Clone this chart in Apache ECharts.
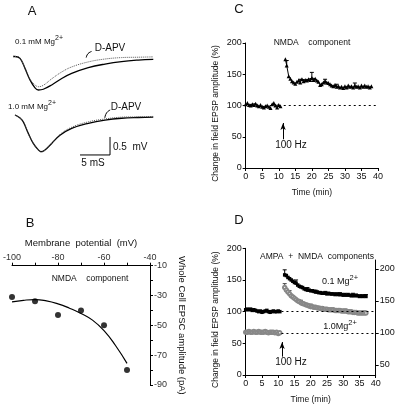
<!DOCTYPE html>
<html><head><meta charset="utf-8">
<script src="https://cdn.jsdelivr.net/npm/echarts@6/dist/echarts.min.js"></script>
<style>html,body{margin:0;padding:0;background:#fff}#c{width:400px;height:406px}</style>
</head><body><div id="c"></div>
<script>
// ---------- Panel A: EPSP traces (time ms, mV) ----------
const aTimeTop = [0, 0.33, 1.17, 2.0, 2.83, 3.67, 4.22, 5.05, 6.45, 8.12, 9.78, 12.55, 15.33, 18.1, 20.88, 23.38];
const aTopCtrl = [0, 0, -0.05, -0.33, -0.65, -0.87, -0.93, -0.91, -0.79, -0.61, -0.47, -0.31, -0.21, -0.14, -0.10, -0.08];
const aTopAPV  = [0, 0, -0.05, -0.33, -0.63, -0.79, -0.84, -0.80, -0.62, -0.43, -0.29, -0.15, -0.07, -0.03, -0.02, -0.01];
const aTimeBot = [0.33, 1.17, 1.72, 2.55, 3.38, 4.22, 4.67, 5.33, 6.45, 7.83, 9.78, 12.55, 15.33, 18.1, 20.88, 23.38];
const aBotCtrl = [0, -0.08, -0.19, -0.51, -0.79, -0.97, -1.02, -0.97, -0.79, -0.56, -0.37, -0.23, -0.14, -0.09, -0.07, -0.06];
const aBotAPV  = [0, -0.08, -0.19, -0.51, -0.79, -0.98, -1.03, -0.98, -0.78, -0.54, -0.34, -0.19, -0.11, -0.06, -0.05, -0.04];
const leaderTopT = [12.2, 12.5, 13.1], leaderTopV = [-0.03, 0.08, 0.14];
const leaderBotT = [15.3, 15.6, 16.2], leaderBotV = [-0.08, 0.06, 0.14];
const scaleBarT = [11.17, 16.17, 16.17], scaleBarV = [-1.11, -1.11, -0.61];

// ---------- Panel B: I-V ----------
const bPotential = [-100, -90, -80, -70, -60, -50];
const bAmplitude = [-31, -33.8, -43, -40, -50, -80];
const bFitV = [-100, -95, -90, -85, -80, -75, -70, -65, -60, -55, -50];
const bFitI = [-34.3, -33.2, -32.7, -33.6, -35.6, -38.5, -42, -46.5, -53.5, -63.5, -75.5];

// ---------- Panel C: NMDA component ----------
const cTime = [0,0.5,1,1.5,2,2.5,3,3.5,4,4.5,5,5.5,6,6.5,7,7.5,8,8.5,9,9.5,10,10.5,
  11,
  12,12.4,13,13.5,14,14.5,15,15.5,16,16.5,17,17.5,18,18.5,19,19.5,20,20.5,21,21.5,22,22.5,23,23.5,24,24.5,25,25.5,26,26.5,27,27.5,28,28.5,29,29.5,30,30.5,31,31.5,32,32.5,33,33.5,34,34.5,35,35.5,36,36.5,37,37.5,38];
const cValue = [102,104,101,100,102,101,103,100,99,101,98,97,99,100,98,96,102,104,100,97,101,99,
  null,
  174,164,147,143,139,137,135,138,140,137,142,139,141,140,142,141,144,141,143,140,138,133,134,137,139,137,136,134,132,131,133,130,131,129,130,128,131,129,132,130,131,129,132,130,131,129,132,130,132,130,131,129,131];
const cErrT = [12.4, 16.5, 20, 24, 27.5, 33];
const cErrM = [164, 137, 144, 139, 130, 132];
const cErrE = [8, 5, 9, 3, 4, 4];

// ---------- Panel D: AMPA + NMDA ----------
const dTime = [0,0.5,1,1.5,2,2.5,3,3.5,4,4.5,5,5.5,6,6.5,7,7.5,8,8.5,9,9.5,10,10.5,
  11,
  12,12.5,13,13.5,14,14.5,15,15.5,16,16.5,17,17.5,18,18.5,19,19.5,20,20.5,21,21.5,22,22.5,23,23.5,24,24.5,25,25.5,26,26.5,27,27.5,28,28.5,29,29.5,30,30.5,31,31.5,32,32.5,33,33.5,34,34.5,35,35.5,36,36.5,37];
const dLowMg = [103,104,103,104,102,103,102,101,100,101,99,100,101,102,100,99,100,101,100,100,101,100,
  null,
  158,157,154,152,150,148,146,145,142,140,139,138,136,135,134,134,133,133,132,131,131,130,130,129,129,129,128,129,128,128,128,127,128,127,127,127,126,127,126,127,126,125,126,125,126,125,124,125,124,125,124];
const dHighMg = [101,101,102,101,101,102,101,101,102,101,101,101,102,101,100,101,101,101,100,101,99,100,
  null,
  171,167,164,161,158,156,154,152,150,149,147,146,145,144,143,142,141,141,140,140,139,139,138,138,137,137,137,136,136,136,136,135,135,135,135,134,134,134,134,133,133,133,132,132,132,131,131,131,131,131,131];
const dLowErrT = [12, 15.5, 19, 21.5, 24.5, 29, 33, 37];
const dLowErrM = [158, 145, 134, 131, 129, 127, 126, 124];
const dLowErrE = [8, 5, 4, 3, 3, 3, 3, 3];
const dHighErrT = [12, 13.5, 17, 20, 23.5, 27.5, 30.5, 33.5, 36.5];
const dHighErrM = [171, 161, 147, 141, 138, 135, 134, 132, 131];
const dHighErrE = [6, 5, 4, 4, 3, 3, 3, 3, 3];
const rightTicks = [50, 100, 150, 200];

const zip = (a, b) => a.map((v, i) => [v, b[i]]);
const zip3 = (a, b, c) => a.map((v, i) => [v, b[i], c[i]]);
const FONT = 'Liberation Sans, Arial, sans-serif';
const INK = '#111';

function errSeries(xi, yi, t, m, e, col) {
  const c = col || '#000';
  return {
    type: 'custom', xAxisIndex: xi, yAxisIndex: yi, silent: true, z: 3,
    data: zip3(t, m, e), encode: { x: 0, y: 1 },
    renderItem: function (params, api) {
      const x = api.value(0), mm = api.value(1), ee = api.value(2);
      const p0 = api.coord([x, mm]), p1 = api.coord([x, mm + ee]);
      return { type: 'group', children: [
        { type: 'line', shape: { x1: p0[0], y1: p0[1], x2: p1[0], y2: p1[1] }, style: { stroke: c, lineWidth: 1 } },
        { type: 'line', shape: { x1: p1[0] - 2, y1: p1[1], x2: p1[0] + 2, y2: p1[1] }, style: { stroke: c, lineWidth: 1 } }
      ] };
    }
  };
}

function txt(x, y, text, size, align, extra) {
  const st = Object.assign({ text: text, font: size + 'px ' + FONT, fill: INK, align: align || 'center', verticalAlign: 'middle' }, extra || {});
  return { type: 'text', x: x, y: y, style: st, silent: true };
}
function mgTxt(x, y, main, align) {
  return { type: 'text', x: x, y: y, silent: true, style: {
    text: '{n|' + main + '}{s|2+}', align: align || 'left', verticalAlign: 'middle',
    rich: { n: { fontSize: 8, fontFamily: FONT, fill: INK, color: INK }, s: { fontSize: 7, fontFamily: FONT, fill: INK, color: INK, padding: [0, 0, 7, 0] } }
  } };
}
function mgTxt2(x, y, main, size) {
  return { type: 'text', x: x, y: y, silent: true, style: {
    text: '{n|' + main + '}{s|2+}', align: 'center', verticalAlign: 'middle',
    rich: { n: { fontSize: size, fontFamily: FONT, fill: INK, color: INK }, s: { fontSize: size - 1.5, fontFamily: FONT, fill: INK, color: INK, padding: [0, 0, 8, 0] } }
  } };
}

const axisLbl = { fontSize: 9, color: INK, fontFamily: FONT, margin: 4 };
const axLine = { show: true, onZero: false, lineStyle: { color: '#000', width: 1 } };
const axTick = { show: true, length: 3, lineStyle: { color: '#000' } };
const hidden = { show: false };

const option = {
  animation: false,
  backgroundColor: '#fff',
  grid: [
    { left: 13, top: 38.5, width: 150, height: 72 },     // A top
    { left: 13, top: 97, width: 150, height: 72 },       // A bottom
    { left: 11.7, top: 265.7, width: 138.3, height: 119.3 }, // B
    { left: 245.7, top: 43, width: 132.3, height: 125 }, // C
    { left: 245.7, top: 248.3, width: 130, height: 126.7 }, // D left
    { left: 245.7, top: 260, width: 130, height: 115 }   // D right
  ],
  xAxis: [
    { gridIndex: 0, type: 'value', min: 0, max: 25, show: false },
    { gridIndex: 1, type: 'value', min: 0, max: 25, show: false },
    { gridIndex: 2, type: 'value', position: 'top', min: -100, max: -40, interval: 10,
      axisLine: axLine, axisTick: axTick, splitLine: hidden,
      axisLabel: Object.assign({}, axisLbl, { color: '#333', formatter: v => (Math.abs(v) % 20 === 0 ? String(v) : '') }),
      name: 'Membrane  potential  (mV)', nameLocation: 'middle', nameGap: 17,
      nameTextStyle: { fontSize: 9.5, color: INK, fontFamily: FONT } },
    { gridIndex: 3, type: 'value', min: 0, max: 40, interval: 5,
      axisLine: axLine, axisTick: axTick, splitLine: hidden, axisLabel: axisLbl,
      name: 'Time (min)', nameLocation: 'middle', nameGap: 20,
      nameTextStyle: { fontSize: 8.5, color: INK, fontFamily: FONT } },
    { gridIndex: 4, type: 'value', min: 0, max: 40, interval: 5,
      axisLine: axLine, axisTick: axTick, splitLine: hidden, axisLabel: axisLbl,
      name: 'Time (min)', nameLocation: 'middle', nameGap: 20,
      nameTextStyle: { fontSize: 8.5, color: INK, fontFamily: FONT } },
    { gridIndex: 5, type: 'value', min: 0, max: 40, show: false }
  ],
  yAxis: [
    { gridIndex: 0, type: 'value', min: -1.5, max: 0.5, show: false },
    { gridIndex: 1, type: 'value', min: -1.5, max: 0.5, show: false },
    { gridIndex: 2, type: 'value', position: 'right', min: -90, max: -10, interval: 10,
      axisLine: axLine, axisTick: axTick, splitLine: hidden,
      axisLabel: Object.assign({}, axisLbl, { color: '#333', formatter: v => (Math.abs(v) % 20 === 10 ? String(v) : '') }),
      name: 'Whole Cell EPSC amplitude (pA)', nameLocation: 'middle', nameRotate: -90, nameGap: 27,
      nameTextStyle: { fontSize: 9.5, color: INK, fontFamily: FONT } },
    { gridIndex: 3, type: 'value', min: 0, max: 200, interval: 50,
      axisLine: axLine, axisTick: axTick, splitLine: hidden, axisLabel: axisLbl,
      name: 'Change in field EPSP amplitude (%)', nameLocation: 'middle', nameGap: 26,
      nameTextStyle: { fontSize: 8.5, color: INK, fontFamily: FONT, padding: [0, 16, 0, 0] } },
    { gridIndex: 4, type: 'value', min: 0, max: 200, interval: 50,
      axisLine: axLine, axisTick: axTick, splitLine: hidden, axisLabel: axisLbl,
      name: 'Change in field EPSP amplitude (%)', nameLocation: 'middle', nameGap: 26,
      nameTextStyle: { fontSize: 8.5, color: INK, fontFamily: FONT, padding: [0, 16, 0, 0] } },
    { gridIndex: 5, type: 'value', position: 'right', min: 34, max: 214,
      axisLine: axLine, splitLine: hidden,
      axisTick: Object.assign({}, axTick, { customValues: rightTicks }),
      axisLabel: Object.assign({}, axisLbl, { customValues: rightTicks }) }
  ],
  series: [
    // A top
    { type: 'line', xAxisIndex: 0, yAxisIndex: 0, data: zip(aTimeTop, aTopCtrl), smooth: 0.4, showSymbol: false, lineStyle: { color: '#000', width: 1.3 } },
    { type: 'line', xAxisIndex: 0, yAxisIndex: 0, data: zip(aTimeTop, aTopAPV), smooth: 0.4, showSymbol: false, lineStyle: { color: '#555', width: 1, type: [1, 1] } },
    { type: 'line', xAxisIndex: 0, yAxisIndex: 0, data: zip(leaderTopT, leaderTopV), smooth: true, showSymbol: false, lineStyle: { color: '#000', width: 1 } },
    // A bottom
    { type: 'line', xAxisIndex: 1, yAxisIndex: 1, data: zip(aTimeBot, aBotCtrl), smooth: 0.4, showSymbol: false, lineStyle: { color: '#000', width: 1.3 } },
    { type: 'line', xAxisIndex: 1, yAxisIndex: 1, data: zip(aTimeBot, aBotAPV), smooth: 0.4, showSymbol: false, lineStyle: { color: '#555', width: 1, type: [1, 1] } },
    { type: 'line', xAxisIndex: 1, yAxisIndex: 1, data: zip(leaderBotT, leaderBotV), smooth: true, showSymbol: false, lineStyle: { color: '#000', width: 1 } },
    { type: 'line', xAxisIndex: 1, yAxisIndex: 1, data: zip(scaleBarT, scaleBarV), showSymbol: false, lineStyle: { color: '#000', width: 1 } },
    // B
    { type: 'scatter', xAxisIndex: 2, yAxisIndex: 2, data: zip(bPotential, bAmplitude), symbol: 'circle', symbolSize: 6, itemStyle: { color: '#000' } },
    { type: 'line', xAxisIndex: 2, yAxisIndex: 2, data: zip(bFitV, bFitI), smooth: true, showSymbol: false, lineStyle: { color: '#000', width: 1.2 } },
    // C
    { type: 'line', xAxisIndex: 3, yAxisIndex: 3, data: zip(cTime, cValue), connectNulls: false,
      symbol: 'triangle', symbolSize: 4, showAllSymbol: true, itemStyle: { color: '#000' }, lineStyle: { color: '#000', width: 1 },
      markLine: { silent: true, symbol: 'none', label: { show: false },
        data: [
          [{ coord: [11.5, 100], lineStyle: { type: [2, 3], color: '#000', width: 1 } }, { coord: [39.5, 100] }],
          [{ coord: [11.3, 46], symbol: 'none', lineStyle: { type: 'solid', color: '#000', width: 1 } }, { coord: [11.3, 72], symbol: 'arrow', symbolSize: [4, 7] }]
        ] } },
    errSeries(3, 3, cErrT, cErrM, cErrE),
    // D
    { type: 'line', xAxisIndex: 4, yAxisIndex: 4, data: zip(dTime, dLowMg), connectNulls: false,
      symbol: 'rect', symbolSize: 3.5, showAllSymbol: true, itemStyle: { color: '#000' }, lineStyle: { color: '#000', width: 1.5 },
      markLine: { silent: true, symbol: 'none', label: { show: false },
        data: [
          [{ coord: [11, 100], lineStyle: { type: [2, 3], color: '#000', width: 1 } }, { coord: [39.5, 100] }],
          [{ coord: [11.2, 29], symbol: 'none', lineStyle: { type: 'solid', color: '#000', width: 1 } }, { coord: [11.2, 52], symbol: 'arrow', symbolSize: [4, 7] }]
        ] } },
    errSeries(4, 4, dLowErrT, dLowErrM, dLowErrE),
    { type: 'line', xAxisIndex: 5, yAxisIndex: 5, data: zip(dTime, dHighMg), connectNulls: false,
      symbol: 'emptyCircle', symbolSize: 3.5, showAllSymbol: true, itemStyle: { color: '#888', borderWidth: 0.7 }, lineStyle: { color: '#999', width: 0.8 },
      markLine: { silent: true, symbol: 'none', label: { show: false },
        data: [ [{ coord: [11, 100], lineStyle: { type: [2, 3], color: '#000', width: 1 } }, { coord: [39.8, 100] }] ] } },
    errSeries(5, 5, dHighErrT, dHighErrM, dHighErrE, '#444')
  ],
  graphic: [
    txt(32, 11, 'A', 13),
    mgTxt(15, 42, '0.1 mM Mg'),
    mgTxt(8, 107, '1.0 mM Mg'),
    txt(110, 48, 'D-APV', 10),
    txt(126, 107, 'D-APV', 10),
    txt(113, 147, '0.5  mV', 10, 'left'),
    txt(93, 163, '5 mS', 10),
    txt(30, 223, 'B', 13),
    txt(90, 279, 'NMDA    component', 8.5),
    txt(239, 9, 'C', 13),
    txt(312, 43, 'NMDA    component', 8.5),
    txt(291, 145, '100 Hz', 10),
    txt(239, 220, 'D', 13),
    txt(317, 257, 'AMPA  +  NMDA  components', 8.5),
    mgTxt2(340, 282, '0.1 Mg', 9),
    mgTxt2(340, 327, '1.0Mg', 9),
    txt(291, 362, '100 Hz', 10)
  ]
};
echarts.init(document.getElementById('c'), null, { renderer: 'canvas' }).setOption(option);
</script></body></html>
